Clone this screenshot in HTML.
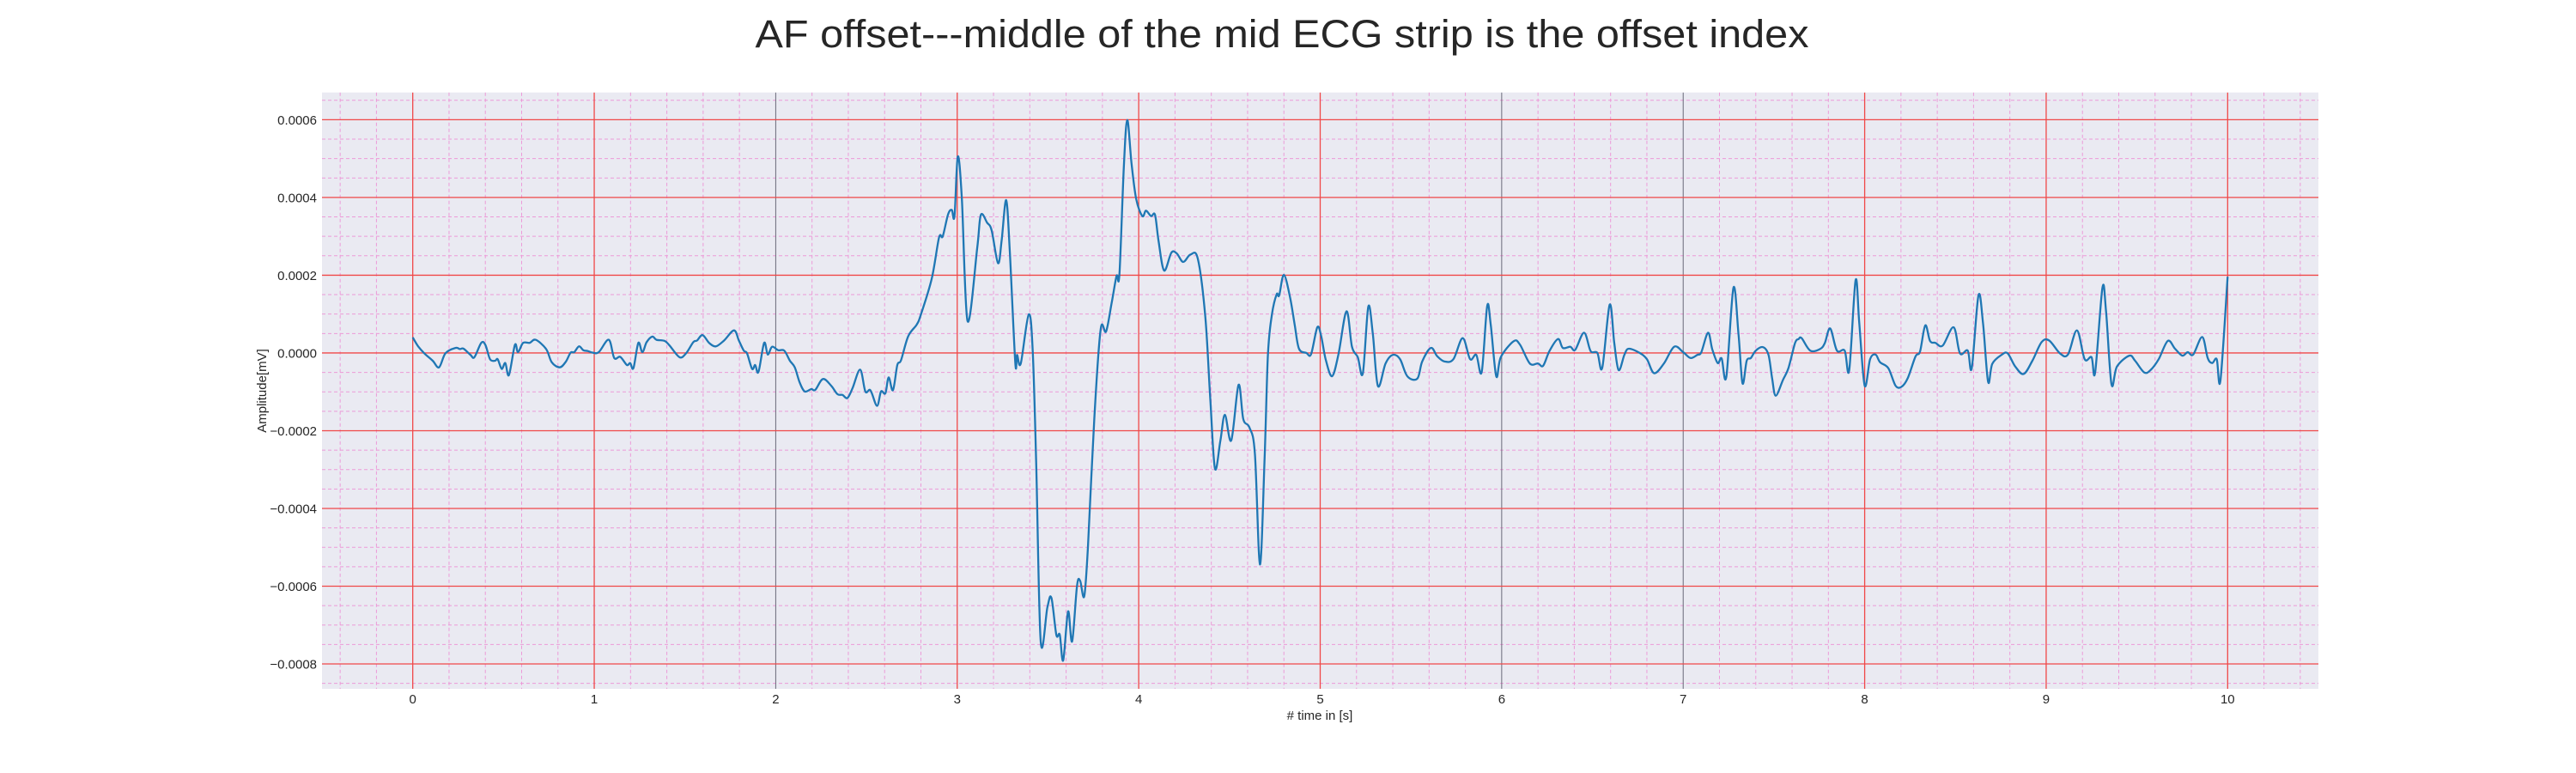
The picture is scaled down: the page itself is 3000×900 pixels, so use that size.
<!DOCTYPE html>
<html><head><meta charset="utf-8"><style>
html,body{margin:0;padding:0;background:#fff;width:3000px;height:900px;overflow:hidden}
svg text{font-family:"Liberation Sans",Arial,sans-serif;fill:#262626}
</style></head><body>
<svg id="chart" width="3000" height="900" viewBox="0 0 3000 900" xmlns="http://www.w3.org/2000/svg">
<text x="1493" y="55" font-size="45" text-anchor="middle" textLength="1227" lengthAdjust="spacingAndGlyphs">AF offset---middle of the mid ECG strip is the offset index</text>
<rect x="375" y="107.7" width="2325" height="294.3" fill="#eaeaf2"/>
<g id="grid"></g>
<g id="ticks"></g>
<path id="ecg" fill="none" stroke="#1f77b4" stroke-width="2.3" stroke-linejoin="round"/>
<text x="1537" y="838" font-size="15" text-anchor="middle"># time in [s]</text>
<text x="0" y="0" font-size="15" text-anchor="middle" transform="translate(310,455) rotate(-90)">Amplitude[mV]</text>
</svg>
<script>
const times = [0,.03,.064,.11,.145,.18,.235,.26,.28,.318,.34,.377,.40,.426,.454,.468,.49,.51,.53,.563,.58,.608,.644,.677,.735,.766,.81,.844,.87,.89,.916,.94,.965,.99,1.025,1.08,1.11,1.143,1.18,1.198,1.216,1.243,1.265,1.289,1.32,1.343,1.388,1.415,1.47,1.506,1.546,1.566,1.597,1.633,1.67,1.715,1.77,1.797,1.824,1.842,1.87,1.887,1.905,1.936,1.956,1.98,2.014,2.047,2.078,2.105,2.132,2.16,2.196,2.218,2.26,2.305,2.34,2.368,2.395,2.423,2.465,2.494,2.522,2.558,2.58,2.604,2.622,2.646,2.67,2.69,2.73,2.777,2.80,2.86,2.90,2.92,2.95,2.97,2.985,3.003,3.025,3.057,3.11,3.13,3.165,3.19,3.225,3.245,3.27,3.29,3.32,3.33,3.35,3.394,3.416,3.435,3.46,3.497,3.519,3.546,3.565,3.584,3.611,3.633,3.66,3.677,3.70,3.72,3.755,3.79,3.82,3.85,3.878,3.894,3.918,3.937,3.96,3.986,4.02,4.04,4.068,4.09,4.11,4.14,4.18,4.21,4.245,4.285,4.326,4.367,4.394,4.42,4.45,4.475,4.51,4.55,4.576,4.61,4.64,4.668,4.693,4.712,4.734,4.76,4.774,4.80,4.834,4.86,4.883,4.924,4.95,4.984,5.005,5.03,5.065,5.10,5.145,5.175,5.207,5.235,5.265,5.29,5.318,5.36,5.40,5.44,5.48,5.535,5.562,5.61,5.644,5.685,5.734,5.785,5.826,5.86,5.89,5.92,5.94,5.97,5.995,6.065,6.10,6.155,6.20,6.228,6.263,6.31,6.337,6.378,6.405,6.454,6.49,6.527,6.554,6.595,6.62,6.644,6.676,6.70,6.76,6.80,6.84,6.894,6.95,7.0,7.04,7.078,7.10,7.137,7.16,7.19,7.212,7.238,7.277,7.305,7.327,7.35,7.373,7.40,7.44,7.47,7.49,7.51,7.55,7.58,7.616,7.636,7.653,7.70,7.754,7.78,7.81,7.847,7.89,7.915,7.95,7.97,8.0,8.03,8.06,8.085,8.13,8.17,8.203,8.237,8.28,8.305,8.334,8.36,8.39,8.43,8.49,8.525,8.568,8.59,8.627,8.652,8.68,8.703,8.754,8.788,8.83,8.876,8.924,8.975,9.017,9.076,9.12,9.17,9.212,9.25,9.27,9.31,9.33,9.36,9.39,9.458,9.49,9.54,9.575,9.62,9.67,9.71,9.75,9.78,9.81,9.86,9.89,9.915,9.94,9.96,10.0];
const amps = [.40,.17,-.01,-.2,-.37,-.01,.13,.10,.11,-.05,-.11,.26,.21,-.16,-.2,-.16,-.41,-.26,-.57,.21,.02,.26,.26,.34,.10,-.24,-.37,-.22,.01,.02,.17,.07,.05,.01,.02,.34,-.13,-.10,-.31,-.26,-.39,.26,.02,.28,.42,.34,.31,.19,-.11,-.01,.28,.32,.46,.26,.17,.32,.58,.32,.06,-.01,-.41,-.31,-.49,.26,-.04,.16,.07,.06,-.20,-.37,-.76,-.99,-.93,-.95,-.67,-.84,-1.06,-1.08,-1.16,-.91,-.43,-.99,-.96,-1.36,-.99,-1.04,-.63,-.96,-.31,-.19,.43,.73,.99,1.92,2.97,3.0,3.57,3.68,3.52,5.05,4.0,.82,2.69,3.55,3.35,3.15,2.31,2.91,3.93,2.58,-.25,-.05,-.27,.99,.05,-2.80,-7.42,-6.54,-6.30,-7.25,-7.25,-7.91,-6.65,-7.42,-5.99,-5.86,-6.26,-5.0,-1.70,.60,.55,1.26,1.98,2.03,4.78,5.99,4.89,3.96,3.52,3.66,3.52,3.55,2.86,2.12,2.58,2.56,2.34,2.53,2.42,.93,-1.15,-2.97,-2.25,-1.59,-2.25,-.82,-1.70,-1.92,-2.58,-5.44,-2.80,-.05,.99,1.51,1.48,2.01,1.43,.71,.11,0,-.03,.66,.44,-.16,-.60,-.05,1.07,.16,-.11,-.52,1.19,.49,-.85,-.27,-.05,-.16,-.60,-.66,-.22,.13,-.08,-.22,-.16,.38,-.16,-.05,-.49,1.21,.71,-.60,-.11,.30,.22,-.27,-.27,-.33,.05,.36,.13,.16,.08,.52,.05,0,-.38,1.24,.27,-.44,-.05,.11,0,-.16,-.52,-.27,.16,.02,-.13,-.05,.02,.52,.10,-.26,-.14,-.61,1.68,.47,-.78,-.20,-.13,.06,.15,-.05,-.65,-1.10,-.69,-.39,.25,.36,.38,.06,.10,.25,.63,.06,.06,-.44,1.87,.77,-.84,-.16,-.04,-.24,-.39,-.84,-.87,-.65,-.09,.04,.71,.31,.26,.19,.66,-.01,.06,-.39,1.48,.77,-.74,-.28,-.05,-.01,-.35,-.54,-.20,.28,.32,-.01,-.04,.58,-.16,-.11,-.50,1.68,1.07,-.80,-.35,-.07,-.20,-.50,-.44,-.16,.31,.11,-.07,.02,-.04,.41,-.13,-.26,-.16,-.71,1.96];
const xTickLabels = ["0","1","2","3","4","5","6","7","8","9","10"];
const yTickValues = [6,4,2,0,-2,-4,-6,-8];
const yTickLabels = ["0.0006","0.0004","0.0002","0.0000","\u22120.0002","\u22120.0004","\u22120.0006","\u22120.0008"];

const L=375,R=2700,T=107.7,B=802;
const xMin=-0.5,xMax=10.5,yMin=-8.64,yMax=6.70;
function xs(t){return L+(t-xMin)/(xMax-xMin)*(R-L);}
function ys(v){return T+(yMax-v)/(yMax-yMin)*(B-T);}
const NS='http://www.w3.org/2000/svg';
const svg=document.getElementById('chart');
svg.querySelector('rect').setAttribute('height',B-T);
const grid=document.getElementById('grid'), ticks=document.getElementById('ticks');
function line(p,x1,y1,x2,y2,stroke,w,dash,name){
  const l=document.createElementNS(NS,'line');
  l.setAttribute('x1',x1);l.setAttribute('y1',y1);l.setAttribute('x2',x2);l.setAttribute('y2',y2);
  l.setAttribute('stroke',stroke);l.setAttribute('stroke-width',w);
  if(dash)l.setAttribute('stroke-dasharray',dash);
  
  
  p.appendChild(l);
}
// minor grid
for(let k=-2;k<=52;k++){const t=k*0.2; if(t<xMin||t>xMax)continue; if(k%5===0)continue;
  line(grid,xs(t),T,xs(t),B,'#ec9ad8',1,'4,3','minor-grid-x');}
for(let k=-18;k<=14;k++){const v=k*0.5; if(v<yMin||v>yMax)continue; if(k%4===0)continue;
  line(grid,L,ys(v),R,ys(v),'#ec9ad8',1,'4,3','minor-grid-y');}
// major grid
xTickLabels.forEach((lab,i)=>{const x=xs(+lab);
  const gray=(i===2||i===6||i===7);
  line(grid,x,T,x,B,gray?'#6a6a7a':'#f04848',gray?1:1.3,null,'major-grid-x');
  const tx=document.createElementNS(NS,'text');
  tx.setAttribute('x',x);tx.setAttribute('y',819);tx.setAttribute('font-size','15');tx.setAttribute('text-anchor','middle');
  tx.textContent=lab;
  
  
  ticks.appendChild(tx);});
yTickValues.forEach((v,i)=>{const y=ys(v);
  line(grid,L,y,R,y,'#f04848',1.3,null,'major-grid-y');
  const tx=document.createElementNS(NS,'text');
  tx.setAttribute('x',369);tx.setAttribute('y',y+5.5);tx.setAttribute('font-size','15');tx.setAttribute('text-anchor','end');
  tx.textContent=yTickLabels[i];
  
  
  ticks.appendChild(tx);});
// ecg line via Catmull-Rom
const P=times.map((t,i)=>[xs(t),ys(amps[i])]);
let d='M'+P[0][0].toFixed(1)+','+P[0][1].toFixed(1);
for(let i=0;i<P.length-1;i++){
  const p0=P[Math.max(i-1,0)],p1=P[i],p2=P[i+1],p3=P[Math.min(i+2,P.length-1)];
  const c1=[p1[0]+(p2[0]-p0[0])/6,p1[1]+(p2[1]-p0[1])/6];
  const c2=[p2[0]-(p3[0]-p1[0])/6,p2[1]-(p3[1]-p1[1])/6];
  d+=' C'+c1[0].toFixed(1)+','+c1[1].toFixed(1)+' '+c2[0].toFixed(1)+','+c2[1].toFixed(1)+' '+p2[0].toFixed(1)+','+p2[1].toFixed(1);
}
document.getElementById('ecg').setAttribute('d',d);
</script>
</body></html>
